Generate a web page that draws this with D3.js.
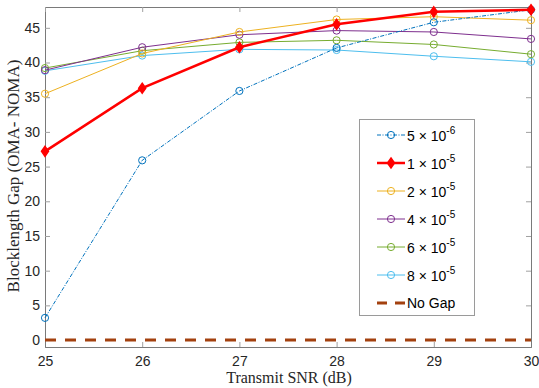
<!DOCTYPE html>
<html>
<head>
<meta charset="utf-8">
<script src="https://cdn.jsdelivr.net/npm/d3@7"></script>
<style>
  body { margin: 0; background: #fff; }
  svg text { font-family: "Liberation Sans", Arial, sans-serif; }
</style>
</head>
<body>
<svg id="chart" width="539" height="388"></svg>
<script>
// snr points (x axis)
var snr = [25, 26, 27, 28, 29, 30];
var xTicks = [25, 26, 27, 28, 29, 30];
var yTicks = [0, 5, 10, 15, 20, 25, 30, 35, 40, 45];

// gap values per error probability
var gap5e6 = [3.2, 25.9, 35.9, 42.1, 45.8, 47.6];
var gap1e5 = [27.2, 36.3, 42.2, 45.5, 47.3, 47.6];
var gap2e5 = [35.5, 41.3, 44.4, 46.2, 46.6, 46.1];
var gap4e5 = [38.9, 42.2, 44.0, 44.6, 44.4, 43.4];
var gap6e5 = [39.2, 41.7, 42.9, 43.2, 42.6, 41.2];
var gap8e5 = [38.8, 41.0, 41.9, 41.8, 40.9, 40.1];
var noGap = [0, 0, 0, 0, 0, 0];

var seriesNames = ['5', '1', '2', '4', '6', '8'];
var seriesExp = ['-6', '-5', '-5', '-5', '-5', '-5'];

var series = [
  {vals: gap5e6, color: '#0072BD', width: 1, dash: '4,1.5,1,1.5', marker: 'circle'},
  {vals: gap1e5, color: '#FF0000', width: 2.5, dash: null, marker: 'diamond'},
  {vals: gap2e5, color: '#EDB120', width: 1, dash: null, marker: 'circle'},
  {vals: gap4e5, color: '#7E2F8E', width: 1, dash: null, marker: 'circle'},
  {vals: gap6e5, color: '#77AC30', width: 1, dash: null, marker: 'circle'},
  {vals: gap8e5, color: '#4DBEEE', width: 1, dash: null, marker: 'circle'}
];

var svg = d3.select('#chart');
// plot box (window.top is reserved, so prefixed names)
var pLeft = 45, pRight = 531, pTop = 7, pBottom = 347;

var x = d3.scaleLinear().domain([25, 30]).range([pLeft, pRight]);
var y = d3.scaleLinear().domain([-1, 48]).range([pBottom, pTop]);

var axisColor = '#262626';
var tickColor = '#a0a0a0';

// axes
var xAxis = svg.append('g').attr('transform', 'translate(0,' + pBottom + ')')
  .call(d3.axisBottom(x).tickValues(xTicks).tickSize(-5).tickPadding(9).tickFormat(d3.format('d')));
var yAxis = svg.append('g').attr('transform', 'translate(' + pLeft + ',0)')
  .call(d3.axisLeft(y).tickValues(yTicks).tickSize(-5).tickPadding(5).tickFormat(d3.format('d')));
var xTop = svg.append('g').attr('transform', 'translate(0,' + pTop + ')')
  .call(d3.axisTop(x).tickValues(xTicks).tickSize(-5).tickFormat(''));
var yRight = svg.append('g').attr('transform', 'translate(' + pRight + ',0)')
  .call(d3.axisRight(y).tickValues(yTicks).tickSize(-5).tickFormat(''));

[xAxis, yAxis, xTop, yRight].forEach(function(g) {
  g.select('.domain').attr('stroke', '#7a7a7a').attr('stroke-width', 1);
  g.selectAll('.tick line').attr('stroke', tickColor);
  g.selectAll('.tick text').attr('fill', axisColor).style('font-size', '14px');
});

// no gap line
var line = d3.line().x(function(d, i) { return x(snr[i]); }).y(function(d) { return y(d); });

svg.append('path').datum(noGap)
  .attr('d', line)
  .attr('fill', 'none')
  .attr('stroke', '#A3410F')
  .attr('stroke-width', 3)
  .attr('stroke-dasharray', '11,9');

function drawMarker(g, kind, cx, cy, color) {
  if (kind === 'diamond') {
    g.append('path')
      .attr('d', 'M' + cx + ',' + (cy - 5) + 'L' + (cx + 3.5) + ',' + cy + 'L' + cx + ',' + (cy + 5) + 'L' + (cx - 3.5) + ',' + cy + 'Z')
      .attr('fill', color).attr('stroke', color).attr('stroke-width', 1.5);
  } else {
    g.append('circle').attr('cx', cx).attr('cy', cy).attr('r', 3.6)
      .attr('fill', 'none').attr('stroke', color).attr('stroke-width', 1);
  }
}

// draw series, red on top
var order = [5, 4, 3, 2, 0, 1];
order.forEach(function(k) {
  var s = series[k];
  var g = svg.append('g');
  g.append('path').datum(s.vals)
    .attr('d', line)
    .attr('fill', 'none')
    .attr('stroke', s.color)
    .attr('stroke-width', s.width)
    .attr('stroke-dasharray', s.dash);
  s.vals.forEach(function(v, i) {
    drawMarker(g, s.marker, x(snr[i]), y(v), s.color);
  });
});

// legend
var lg = svg.append('g');
lg.append('rect').attr('x', 359.5).attr('y', 119.5).attr('width', 115).attr('height', 196)
  .attr('fill', '#fff').attr('stroke', '#9a9a9a').attr('stroke-width', 1);

series.forEach(function(s, i) {
  var ly = 135 + i * 28;
  lg.append('line').attr('x1', 377).attr('x2', 405).attr('y1', ly).attr('y2', ly)
    .attr('stroke', s.color).attr('stroke-width', s.width).attr('stroke-dasharray', s.dash);
  drawMarker(lg, s.marker, 391, ly, s.color);
  var t = lg.append('text').attr('x', 407).attr('y', ly + 6)
    .attr('fill', '#000').style('font-size', '14px');
  t.append('tspan').text(seriesNames[i] + ' \u00d7 10');
  t.append('tspan').attr('dy', -7).style('font-size', '10px').text(seriesExp[i]);
});

var nly = 135 + 6 * 28;
lg.append('line').attr('x1', 377).attr('x2', 405).attr('y1', nly).attr('y2', nly)
  .attr('stroke', '#A3410F').attr('stroke-width', 3).attr('stroke-dasharray', '10,8');
lg.append('text').attr('x', 407).attr('y', nly + 5).attr('fill', '#000')
  .style('font-size', '14px').text('No Gap');

// axis titles
svg.append('text').attr('x', 289).attr('y', 383)
  .attr('text-anchor', 'middle').attr('fill', axisColor)
  .style('font-family', '"Liberation Serif", "DejaVu Serif", serif').style('font-size', '16px')
  .text('Transmit SNR (dB)');
svg.append('text')
  .attr('transform', 'translate(19,176) rotate(-90)')
  .attr('text-anchor', 'middle').attr('fill', axisColor)
  .style('font-family', '"Liberation Serif", "DejaVu Serif", serif').style('font-size', '17px')
  .text('Blocklength Gap (OMA- NOMA)');
</script>
</body>
</html>
